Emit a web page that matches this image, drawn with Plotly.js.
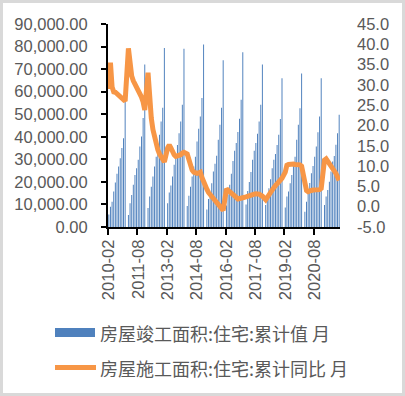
<!DOCTYPE html>
<html>
<head>
<meta charset="utf-8">
<script src="https://cdn.plot.ly/plotly-3.0.1.min.js"></script>
<style>
html,body{margin:0;padding:0;background:#fff;}
#wrap{position:relative;width:405px;height:396px;}
#chart{width:405px;height:396px;}
#frame{position:absolute;left:0;top:0;width:405px;height:396px;box-sizing:border-box;border:3px solid #d9d9d9;pointer-events:none;}
</style>
</head>
<body>
<div id="wrap"><div id="chart"></div><div id="frame"></div></div>
<script>
// ---- data ----
const years = [2010,2011,2012,2013,2014,2015,2016,2017,2018,2019,2020,2021];
const monthNames = ["01","02","03","04","05","06","07","08","09","10","11","12"];
const firstMonth = "2010-02";
const lastMonth = "2021-11";

// 房屋竣工面积:住宅:累计值 (万平方米), January not reported (null)
const completed2010 = [5500, 9000, 11200, 15700, 19700, 23600, 26800, 30500, 35000, 39400, 61000]; // Feb-Dec
const completed2011 = [null, 5300, 10500, 14200, 18700, 23100, 26100, 29800, 35700, 40100, 48300, 72000];
const completed2012 = [null, 8400, 13500, 17900, 22400, 26800, 31200, 35700, 40900, 46800, 52900, 79400];
const completed2013 = [null, 10500, 15300, 18400, 22400, 27600, 32000, 36400, 41600, 46800, 54200, 79000];
const completed2014 = [null, 9300, 13900, 17900, 22400, 26800, 31200, 37900, 43600, 49000, 57200, 80900];
const completed2015 = [null, 7800, 12400, 15100, 19400, 24600, 28000, 31600, 38700, 45300, 52900, 73900];
const completed2016 = [null, 9500, 14500, 18700, 23600, 29300, 33800, 37200, 42100, 48000, 56400, 77500];
const completed2017 = [null, 10000, 16000, 20000, 24400, 29800, 33800, 37200, 41300, 46800, 54200, 72000];
const completed2018 = [null, 9800, 14200, 17200, 21200, 26100, 29800, 32400, 36400, 40900, 47900, 66000];
const completed2019 = [null, 8700, 13500, 15700, 19400, 23100, 27100, 31200, 38700, 45300, 52700, 68000];
const completed2020 = [null, 6800, 11200, 15500, 19500, 23800, 27000, 31200, 35700, 42000, 49000, 66000];
const completed2021 = [null, 9800, 13500, 16400, 20100, 24600, 29000, 31500, 36500, 41600, 49800]; // Jan-Nov

// 房屋施工面积:住宅:累计同比 (%)
const yoy2010 = [29.0, 35.5, 29.5, 28.3, 28.2, 27.8, 27.6, 27.3, 27.0, 26.6, 26.0]; // Feb-Dec
const yoy2011 = [null, 39.0, 35.0, 32.2, 31.0, 30.2, 29.5, 28.8, 28.2, 27.0, 25.8, 23.8];
const yoy2012 = [null, 33.0, 26.0, 21.8, 19.0, 17.0, 15.5, 14.0, 13.0, 12.2, 11.5, 11.0];
const yoy2013 = [null, 14.5, 15.2, 14.5, 13.5, 12.8, 12.4, 12.5, 12.7, 12.8, 13.2, 13.4];
const yoy2014 = [null, 13.0, 11.5, 10.2, 9.0, 8.5, 8.3, 8.2, 8.3, 8.5, 7.2, 5.9];
const yoy2015 = [null, 4.3, 3.5, 3.0, 2.4, 1.7, 1.2, 0.8, 0.4, 0.0, -0.4, -0.9];
const yoy2016 = [null, 4.4, 4.1, 3.8, 3.5, 3.0, 2.8, 2.3, 1.9, 1.9, 2.1, 2.2];
const yoy2017 = [null, 2.4, 2.6, 2.8, 2.9, 3.0, 3.1, 3.2, 3.2, 3.1, 2.8, 2.6];
const yoy2018 = [null, 1.7, 2.4, 3.0, 3.7, 4.3, 4.7, 5.2, 5.6, 6.0, 6.4, 7.0];
const yoy2019 = [null, 8.5, 10.2, 10.4, 10.5, 10.5, 10.5, 10.4, 10.4, 10.4, 10.3, 10.0];
const yoy2020 = [null, 5.0, 4.0, 3.7, 3.7, 4.0, 4.1, 4.1, 4.0, 4.0, 4.2, 4.5];
const yoy2021 = [null, 11.5, 11.8, 11.2, 10.6, 10.0, 9.7, 9.0, 8.2, 7.3, 6.5];

const rightTickVals = [-5, 0, 5, 10, 15, 20, 25, 30, 35, 40, 45];
const rightTickText = ["-5.0", "0.0", "5.0", "10.0", "15.0", "20.0", "25.0", "30.0", "35.0", "40.0", "45.0"];
const seriesNames = ["房屋竣工面积:住宅:累计值 月", "房屋施工面积:住宅:累计同比 月"];

// ---- build ----
const months = [];
years.forEach(y => monthNames.forEach(m => months.push(y + "-" + m)));
const cats = months.slice(months.indexOf(firstMonth), months.indexOf(lastMonth) + 1);
const completed = [].concat(completed2010, completed2011, completed2012, completed2013, completed2014, completed2015,
  completed2016, completed2017, completed2018, completed2019, completed2020, completed2021);
const yoy = [].concat(yoy2010, yoy2011, yoy2012, yoy2013, yoy2014, yoy2015,
  yoy2016, yoy2017, yoy2018, yoy2019, yoy2020, yoy2021);

const blue = "#4F81BD", orange = "#F79646", grey = "#595959";

const traces = [
  {type: "bar", x: cats, y: completed, name: seriesNames[0], marker: {color: blue}, yaxis: "y"},
  {type: "scatter", mode: "lines", x: cats, y: yoy, name: seriesNames[1], connectgaps: true,
   line: {color: orange, width: 5}, yaxis: "y2"}
];

// plot area in px: left 108, right 340, top 24, bottom 227
const L = 108, R = 340, T = 24, B = 227;
const px = v => (v - L) / (R - L);
const py = v => (B - v) / (B - T);

const layout = {
  width: 405, height: 396,
  margin: {l: L, r: 405 - R, t: T, b: 396 - B, pad: 0},
  paper_bgcolor: "#fff", plot_bgcolor: "#fff",
  showlegend: false,
  bargap: 0.4,
  font: {family: "Liberation Sans", size: 16.5, color: grey},
  xaxis: {
    type: "category", categoryorder: "array", categoryarray: cats,
    tickmode: "linear", tick0: 0, dtick: 18, tickson: "boundaries",
    ticks: "outside", ticklen: 6, tickwidth: 2, tickcolor: "#000",
    showline: true, linewidth: 2, linecolor: "#000",
    showgrid: false, zeroline: false, tickangle: -90,
    tickfont: {family: "Liberation Sans", size: 16.5, color: grey},
    ticklabelstandoff: 4
  },
  yaxis: {
    range: [0, 90000], dtick: 10000, tick0: 0, tickformat: ",.2f",
    ticks: "outside", ticklen: 5, tickwidth: 2, tickcolor: "#000",
    showline: true, linewidth: 2, linecolor: "#000",
    showgrid: false, zeroline: false,
    tickfont: {family: "Liberation Sans", size: 16.5, color: grey},
    ticklabelstandoff: 10
  },
  yaxis2: {
    overlaying: "y", side: "right", range: [-5, 45],
    tickmode: "array", tickvals: rightTickVals, ticktext: rightTickText,
    ticks: "", showline: false, showgrid: false, zeroline: false,
    tickfont: {family: "Liberation Sans", size: 16.5, color: grey},
    ticklabelstandoff: 16
  },
  shapes: [
    {type: "rect", xref: "paper", yref: "paper", x0: px(55), x1: px(95), y0: py(337), y1: py(328),
     fillcolor: blue, line: {width: 0}},
    {type: "line", xref: "paper", yref: "paper", x0: px(55), x1: px(96), y0: py(367.5), y1: py(367.5),
     line: {color: orange, width: 5}}
  ],
  annotations: [
    {xref: "paper", yref: "paper", x: px(98), y: py(333), xanchor: "left", yanchor: "middle",
     text: seriesNames[0], showarrow: false,
     font: {family: "Noto Sans CJK SC", size: 18, color: grey}},
    {xref: "paper", yref: "paper", x: px(98), y: py(367.5), xanchor: "left", yanchor: "middle",
     text: seriesNames[1], showarrow: false,
     font: {family: "Noto Sans CJK SC", size: 18, color: grey}}
  ]
};

Plotly.newPlot("chart", traces, layout, {displayModeBar: false, staticPlot: true});
</script>
</body>
</html>
